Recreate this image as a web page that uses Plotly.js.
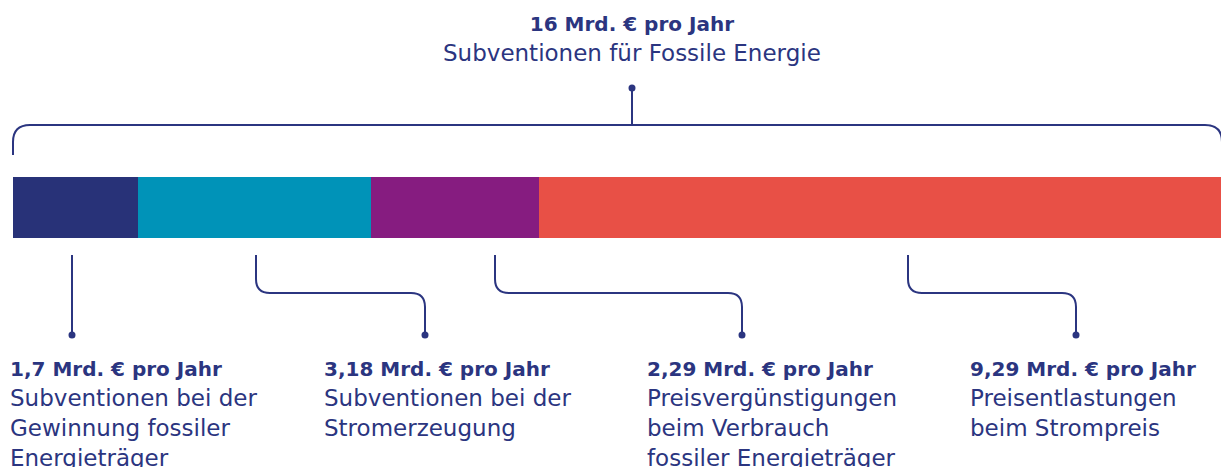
<!DOCTYPE html>
<html><head><meta charset="utf-8">
<script src="https://cdn.plot.ly/plotly-3.0.1.min.js"></script>
<style>html,body{margin:0;padding:0;background:#fff}#c{width:1221px;height:467px}</style>
</head><body><div id="c"></div>
<script>
const categories = ["Gewinnung fossiler Energieträger","Stromerzeugung","Verbrauch fossiler Energieträger","Strompreis"];
const values = [1.7, 3.18, 2.29, 9.29];
const valueLabels = ["1,7 Mrd. € pro Jahr","3,18 Mrd. € pro Jahr","2,29 Mrd. € pro Jahr","9,29 Mrd. € pro Jahr"];
const descLabels = ["Subventionen bei der<br>Gewinnung fossiler<br>Energieträger","Subventionen bei der<br>Stromerzeugung","Preisvergünstigungen<br>beim Verbrauch<br>fossiler Energieträger","Preisentlastungen<br>beim Strompreis"];
const totalLabel = "16 Mrd. € pro Jahr";
const totalDesc = "Subventionen für Fossile Energie";
const colors = ["#283278","#0093b8","#861c80","#e85046"];

const W = 1221, H = 467, X0 = 13, X1 = 1221;
const total = values.reduce((a,b)=>a+b,0);
const ink = "#2b3580";
const FONT = "'DejaVu Sans', sans-serif";
const P = px => px/W;

const traces = values.map((v,i)=>({
  type:'bar', orientation:'h', x:[v], y:[207.5], width:[61],
  marker:{color:colors[i], line:{width:0}}, name:categories[i], hoverinfo:'skip'
}));

// layout positions (pixels)
const labelX = [8, 322, 645, 968];
const startX = [72, 256, 495, 908];
const dotX = [72, 425, 742, 1076];
const r = 14, yTop = 255, yMid = 293, yDot = 335;

const shapes = [];
values.forEach((v,i)=>{
  const sx = startX[i], ex = dotX[i];
  let path;
  if (Math.abs(ex - sx) < 2) {
    path = `M ${P(ex)},${yTop} L ${P(ex)},${yDot}`;
  } else {
    path = `M ${P(sx)},${yTop} L ${P(sx)},${yMid-r} Q ${P(sx)},${yMid} ${P(sx+r)},${yMid} L ${P(ex-r)},${yMid} Q ${P(ex)},${yMid} ${P(ex)},${yMid+r} L ${P(ex)},${yDot}`;
  }
  shapes.push({type:'path', xref:'paper', yref:'y', path, line:{color:ink, width:2}});
  shapes.push({type:'circle', xref:'paper', yref:'y', x0:P(ex-3.5), x1:P(ex+3.5), y0:yDot-3.5, y1:yDot+3.5, fillcolor:ink, line:{width:0}});
});
// bracket
const bY = 125, bR = 17, cx = 632;
shapes.push({type:'path', xref:'paper', yref:'y',
  path:`M ${P(13)},155 L ${P(13)},${bY+bR} Q ${P(13)},${bY} ${P(13+bR)},${bY} L ${P(1205)},${bY} Q ${P(1222)},${bY} ${P(1222)},${bY+bR}`,
  line:{color:ink, width:2}});
shapes.push({type:'path', xref:'paper', yref:'y', path:`M ${P(cx)},${bY} L ${P(cx)},88`, line:{color:ink,width:2}});
shapes.push({type:'circle', xref:'paper', yref:'y', x0:P(cx-3.5), x1:P(cx+3.5), y0:84.5, y1:91.5, fillcolor:ink, line:{width:0}});

const B = t => `<span style="font-size:20px"><b>${t}</b></span>`;
const annotations = [];
annotations.push({xref:'paper', yref:'y', x:P(cx), y:10, xanchor:'center', yanchor:'top', showarrow:false, align:'center',
  text:`${B(totalLabel)}<br>${totalDesc}`, font:{family:FONT, size:23, color:ink}});
values.forEach((v,i)=>{
  annotations.push({xref:'paper', yref:'y', x:P(labelX[i]), y:355, xanchor:'left', yanchor:'top', showarrow:false, align:'left',
    text:`${B(valueLabels[i])}<br>${descLabels[i]}`, font:{family:FONT, size:23, color:ink}});
});

const layout = {
  width:W, height:H, margin:{l:0,r:0,t:0,b:0}, barmode:'stack', showlegend:false,
  paper_bgcolor:'#fff', plot_bgcolor:'#fff',
  xaxis:{range:[-X0/(X1-X0)*total, total], visible:false, fixedrange:true},
  yaxis:{range:[H,0], visible:false, fixedrange:true},
  shapes, annotations
};
Plotly.newPlot('c', traces, layout, {staticPlot:true, displayModeBar:false});
</script></body></html>
